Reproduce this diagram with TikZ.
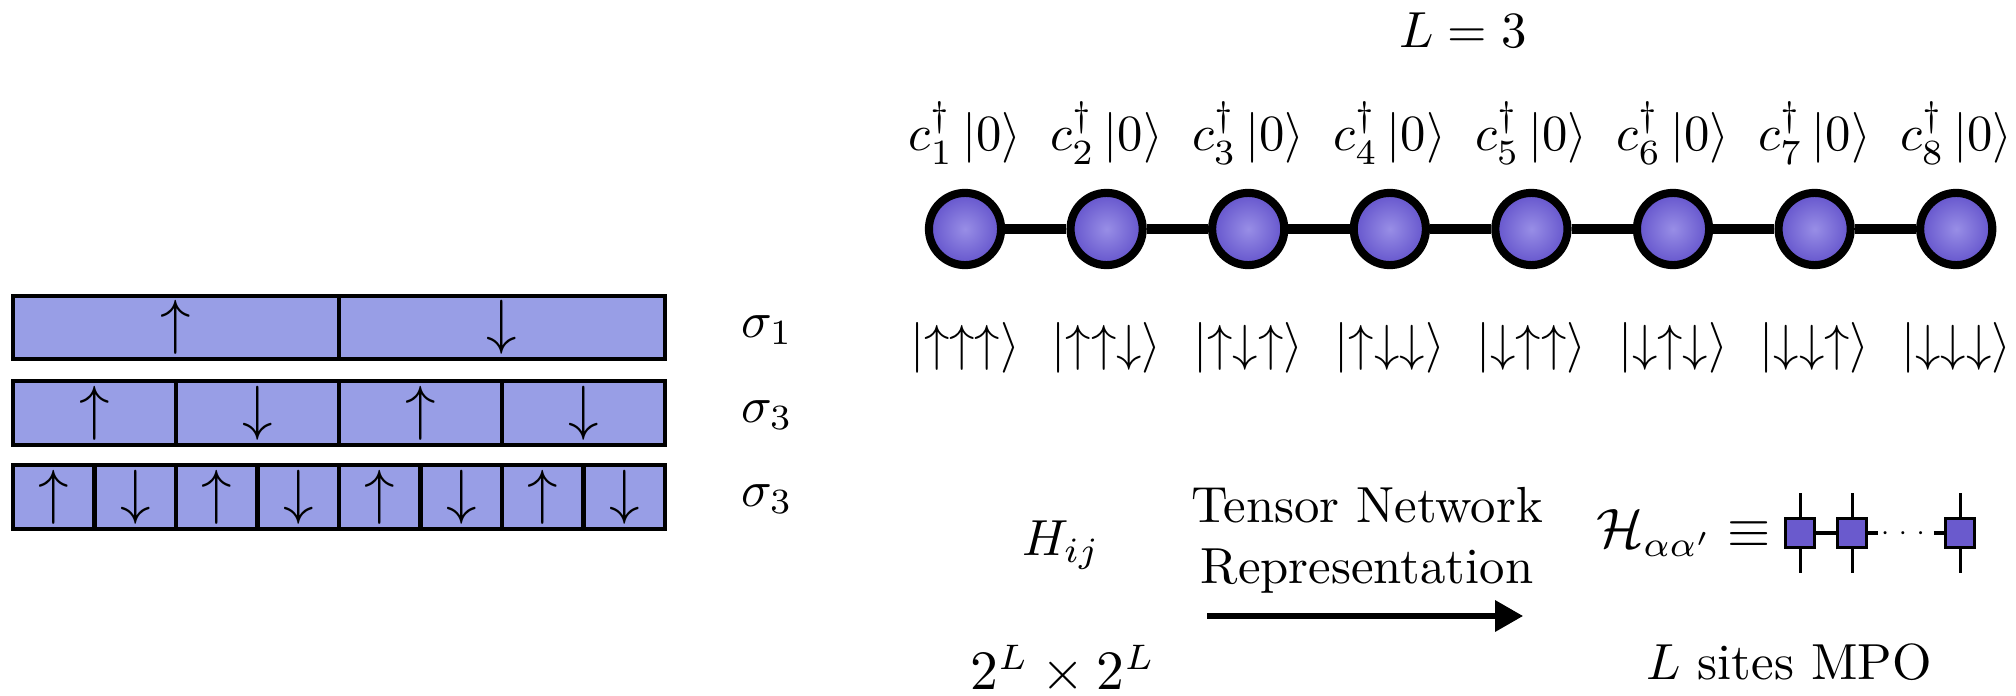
\documentclass[tikz,border=0pt]{standalone}
\usepackage{amsmath}
\usetikzlibrary{arrows.meta, positioning, calc}

\definecolor{cellblue}{RGB}{152,158,230}
\definecolor{ballin}{RGB}{152,142,230}
\definecolor{ballout}{RGB}{100,84,204}
\definecolor{mpoblue}{RGB}{106,90,205}
\newcommand{\spinket}[1]{\lvert #1 \rangle}

\begin{document}
\begin{tikzpicture}[
    x=0.00693cm, y=-0.00693cm,
    every node/.style={inner sep=0pt},
    site/.style={circle, draw=black, line width=1.6pt, inner color=ballin, outer color=ballout, minimum size=0.5cm},
    bond/.style={line width=2pt},
    cell/.style={rectangle, draw=black, thick, fill=cellblue, minimum height=0.44cm, font=\fontsize{11.5}{14}\selectfont},
    oplabel/.style={font=\fontsize{10}{12}\selectfont},
    ketlabel/.style={font=\fontsize{10.4}{12}\selectfont},
    mpo/.style={rectangle, draw=black, semithick, fill=mpoblue, minimum size=0.2cm},
    leg/.style={draw, semithick}
  ]
  \useasboundingbox (0,0) rectangle (2016,695);

  % spin chain
  \node (title) [font=\fontsize{10.4}{12}\selectfont] at (1463,30) {$L=3$};
  \foreach \i/\s in {1/{\uparrow\uparrow\uparrow}, 2/{\uparrow\uparrow\downarrow},
                     3/{\uparrow\downarrow\uparrow}, 4/{\uparrow\downarrow\downarrow},
                     5/{\downarrow\uparrow\uparrow}, 6/{\downarrow\uparrow\downarrow},
                     7/{\downarrow\downarrow\uparrow}, 8/{\downarrow\downarrow\downarrow}} {
    \node [site] (site\i) at ({965+141.6*(\i-1)},229) {};
    \node (op\i) [oplabel] at ({965+141.6*(\i-1)},133) {$c_{\i}^{\dagger}\,\spinket{0}$};
    \node (ket\i) [ketlabel] at ({965+141.6*(\i-1)},348) {$\spinket{\s}$};
  }
  \foreach \i [evaluate=\i as \j using int(\i+1)] in {1,...,7}
    \draw [bond] (site\i) -- (site\j);

  % bit strings
  \foreach \k in {0,1}
    \node [cell, minimum width=2.259cm] (ra\k) at ({176+326*\k},327.5) {\ifodd\k $\downarrow$\else $\uparrow$\fi};
  \foreach \k in {0,...,3}
    \node [cell, minimum width=1.13cm] (rb\k) at ({94.5+163*\k},413) {\ifodd\k $\downarrow$\else $\uparrow$\fi};
  \foreach \k in {0,...,7}
    \node [cell, minimum width=0.565cm] (rc\k) at ({53.75+81.5*\k},497) {\ifodd\k $\downarrow$\else $\uparrow$\fi};
  \node (siga) at (767,330) {$\sigma_1$};
  \node (sigb) at (767,415) {$\sigma_3$};
  \node (sigc) at (767,499) {$\sigma_3$};

  % Hamiltonian -> MPO
  \node (ham) at (1061,545) {$H_{ij}$};
  \node (dim) [font=\fontsize{10.5}{12}\selectfont] at (1063,670) {$2^L\times 2^L$};
  \node (tn) [align=center] at (1367,540) {Tensor Network\\Representation};
  \coordinate (tnl) at (1207,616);
  \coordinate (tnr) at (1523,616);
  \draw [line width=1pt, -{Triangle[length=5.5pt, width=6pt]}] (tnl) -- (tnr);

  \node (hmpo) [anchor=east, font=\fontsize{10.5}{12}\selectfont] at (1772,533) {$\mathcal{H}_{\alpha\alpha'}\equiv$};
  \draw [leg] (1800,493) -- (1800,573);
  \draw [leg] (1852,493) -- (1852,573);
  \draw [leg] (1960,493) -- (1960,573);
  \node [mpo] (m1) at (1800,533) {};
  \node [mpo] (m2) at (1852,533) {};
  \node [mpo] (m3) at (1960,533) {};
  \node (dots) [font=\tiny] at (1906,533) {$\cdots$};
  \draw [semithick] (m1) -- (m2);
  \draw [semithick] (m2) -- (dots);
  \draw [semithick] (dots) -- (m3);
  \node (sites) at (1789,662) {$L$ sites MPO};
\end{tikzpicture}
\end{document}
